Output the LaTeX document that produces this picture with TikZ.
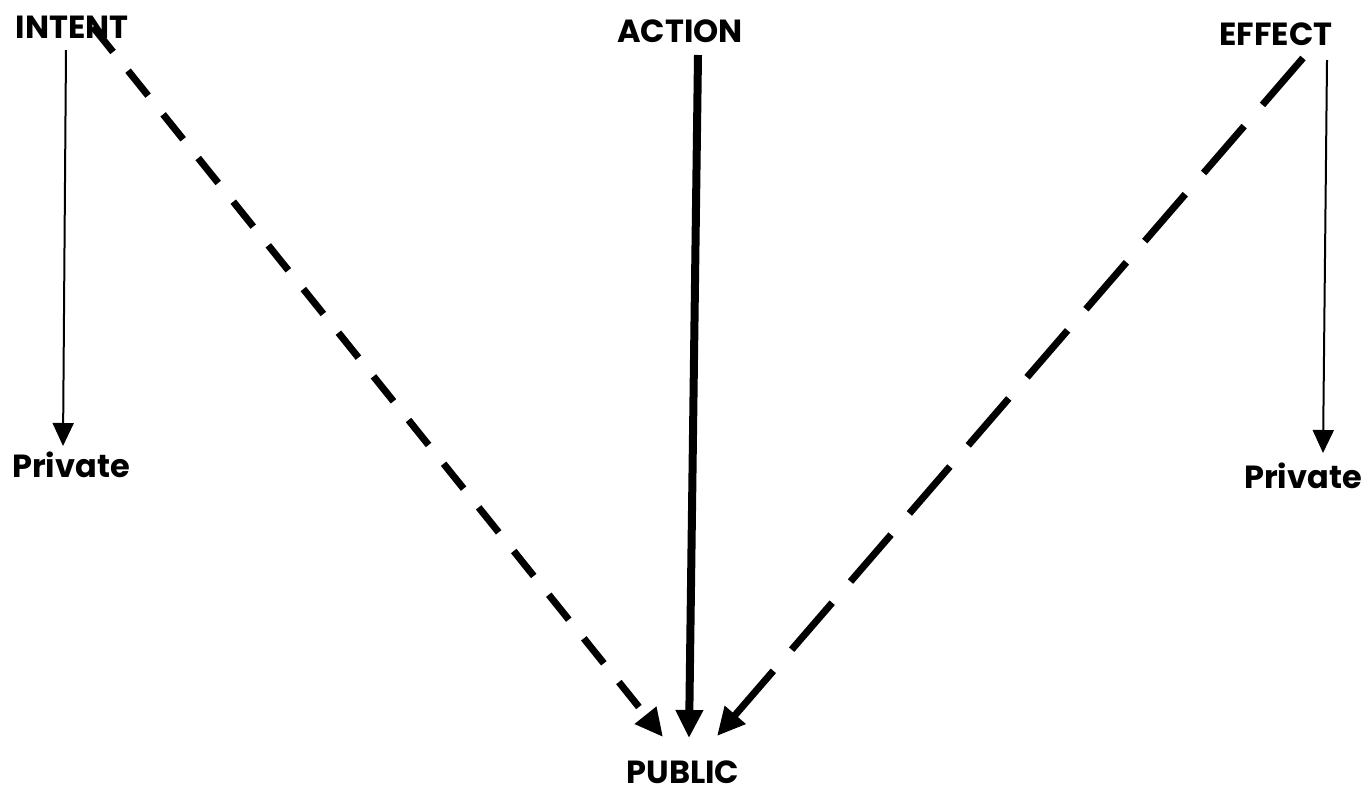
\documentclass[tikz,border=0pt]{standalone}
\usepackage{fontspec}
\setmainfont{Poppins}
\usetikzlibrary{arrows.meta}
\begin{document}
\begin{tikzpicture}[x=1pt,y=-1pt,
  lbl/.style={font=\fontsize{32}{36}\selectfont\bfseries, inner sep=0pt, anchor=base},
  thinarrow/.style={line width=2pt, -{Triangle[length=23pt,width=21pt]}},
  thickarrow/.style={line width=8pt, -{Triangle[length=28pt,width=26pt]}},
  dasharrow/.style={line width=7pt, -{Triangle[length=28pt,width=26pt]}}]
\useasboundingbox[fill=white] (0,0) rectangle (1370,796);
\node[lbl] (intent) at (72,38) {INTENT};
\node[lbl] (action) at (680,42) {ACTION};
\node[lbl] (effect) at (1276,45) {EFFECT};
\node[lbl] (privL) at (71,477) {Private};
\node[lbl] (privR) at (1303,488) {Private};
\node[lbl] (public) at (683,783) {PUBLIC};
\coordinate (iS) at (66,50);
\coordinate (iD) at (93,27);
\coordinate (aS) at (698,55);
\coordinate (eS) at (1303,58);
\coordinate (eT) at (1327,60);
\coordinate (pL) at (63,446);
\coordinate (pR) at (1323,453);
\coordinate (pubL) at (663,737);
\coordinate (pubM) at (689,738);
\coordinate (pubR) at (717,736);
\draw[thinarrow] (iS) -- (pL);
\draw[thinarrow] (eT) -- (pR);
\draw[thickarrow] (aS) -- (pubM);
\draw[dasharrow, dash pattern=on 32pt off 24pt] (iD) -- (pubL);
\draw[dasharrow, dash pattern=on 62pt off 28pt] (eS) -- (pubR);
\end{tikzpicture}
\end{document}
